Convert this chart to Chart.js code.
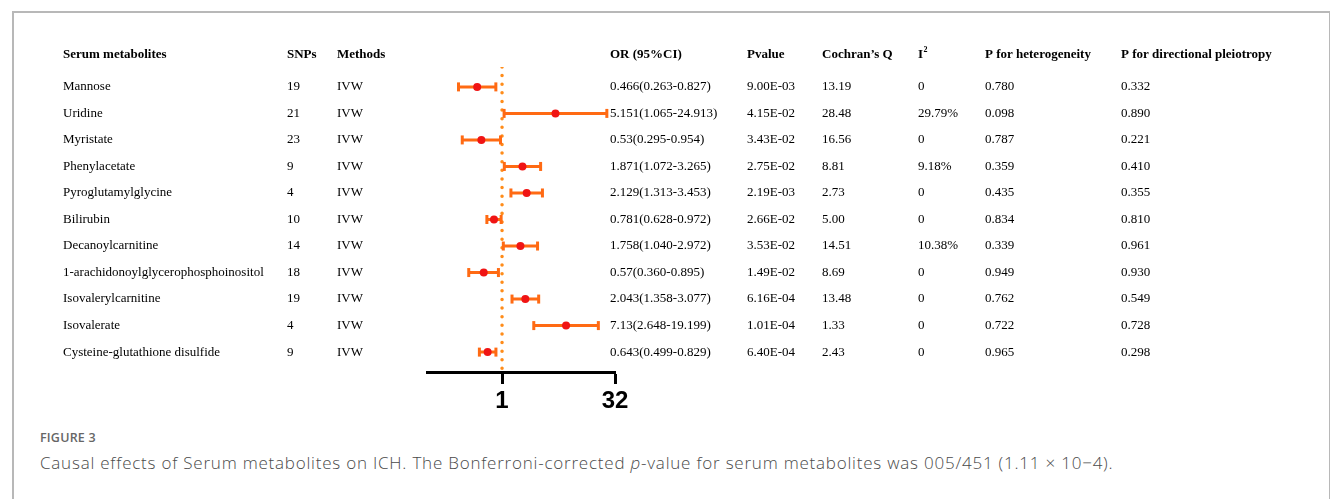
<!DOCTYPE html>
<html>
<head>
<meta charset="utf-8">
<script src="https://cdn.jsdelivr.net/npm/chart.js@4.4.1/dist/chart.umd.min.js"></script>
<style>
  body { margin: 0; background: #fff; width: 1330px; height: 499px; overflow: hidden; position: relative; }
  #frame { position: absolute; left: 12px; top: 11px; width: 1315px; height: 500px;
           border: 2px solid #b8b8b8; border-bottom: none; }
  #plot { position: absolute; left: 0; top: 0; }
  #figno { position: absolute; left: 40px; top: 429px; font-family: "Open Sans", sans-serif;
           font-size: 12.5px; font-weight: 600; color: #666; letter-spacing: 0.2px; }
  #caption { position: absolute; left: 40px; top: 451px; font-family: "Open Sans", sans-serif;
             font-size: 17px; font-weight: 300; letter-spacing: 0.78px; color: #4a4a4a; white-space: nowrap; }
</style>
</head>
<body>
<div id="frame"></div>
<canvas id="plot" width="1330" height="420"></canvas>
<div id="figno">FIGURE 3</div>
<div id="caption">Causal effects of Serum metabolites on ICH. The Bonferroni-corrected <i>p</i>-value for serum metabolites was 005/451 (1.11 × 10−4).</div>
<script>
// table rows, top to bottom
const metabolites = ["Mannose", "Uridine", "Myristate", "Phenylacetate", "Pyroglutamylglycine", "Bilirubin",
  "Decanoylcarnitine", "1-arachidonoylglycerophosphoinositol", "Isovalerylcarnitine", "Isovalerate",
  "Cysteine-glutathione disulfide"];
const snps = [19, 21, 23, 9, 4, 10, 14, 18, 19, 4, 9];
const methods = ["IVW", "IVW", "IVW", "IVW", "IVW", "IVW", "IVW", "IVW", "IVW", "IVW", "IVW"];
const orValue = [0.466, 5.151, 0.53, 1.871, 2.129, 0.781, 1.758, 0.57, 2.043, 7.13, 0.643];
const ciLow = [0.263, 1.065, 0.295, 1.072, 1.313, 0.628, 1.040, 0.360, 1.358, 2.648, 0.499];
const ciHigh = [0.827, 24.913, 0.954, 3.265, 3.453, 0.972, 2.972, 0.895, 3.077, 19.199, 0.829];
const orText = ["0.466(0.263-0.827)", "5.151(1.065-24.913)", "0.53(0.295-0.954)", "1.871(1.072-3.265)",
  "2.129(1.313-3.453)", "0.781(0.628-0.972)", "1.758(1.040-2.972)", "0.57(0.360-0.895)",
  "2.043(1.358-3.077)", "7.13(2.648-19.199)", "0.643(0.499-0.829)"];
const pvalue = ["9.00E-03", "4.15E-02", "3.43E-02", "2.75E-02", "2.19E-03", "2.66E-02", "3.53E-02",
  "1.49E-02", "6.16E-04", "1.01E-04", "6.40E-04"];
const cochranQ = ["13.19", "28.48", "16.56", "8.81", "2.73", "5.00", "14.51", "8.69", "13.48", "1.33", "2.43"];
const i2 = ["0", "29.79%", "0", "9.18%", "0", "0", "10.38%", "0", "0", "0", "0"];
const pHet = ["0.780", "0.098", "0.787", "0.359", "0.435", "0.834", "0.339", "0.949", "0.762", "0.722", "0.965"];
const pDir = ["0.332", "0.890", "0.221", "0.410", "0.355", "0.810", "0.961", "0.930", "0.549", "0.728", "0.298"];
const xTicks = [1, 32];

// error bar segments, a null x breaks the line between rows
let barData = [];
let capData = [];
let pointData = [];
for (let i = 0; i < metabolites.length; i++) {
    barData.push({x: ciLow[i], y: i}, {x: ciHigh[i], y: i}, {x: null, y: i});
    capData.push({x: ciLow[i], y: i}, {x: ciHigh[i], y: i});
    pointData.push({x: orValue[i], y: i});
}

// column x positions of the text table
const cols = [
    {x: 63, head: "Serum metabolites", vals: metabolites},
    {x: 287, head: "SNPs", vals: snps},
    {x: 337, head: "Methods", vals: methods},
    {x: 610, head: "OR (95%CI)", vals: orText},
    {x: 747, head: "Pvalue", vals: pvalue},
    {x: 822, head: "Cochran\u2019s Q", vals: cochranQ},
    {x: 918, head: "I", vals: i2},
    {x: 985, head: "P for heterogeneity", vals: pHet},
    {x: 1121, head: "P for directional pleiotropy", vals: pDir}
];

const tablePlugin = {
    id: "table",
    afterDraw(chart) {
        const ctx = chart.ctx;
        const y = chart.scales.y;
        ctx.save();
        ctx.fillStyle = "#000";
        ctx.textBaseline = "middle";
        ctx.textAlign = "left";
        const headY = y.getPixelForValue(-1.2);
        cols.forEach(c => {
            ctx.font = "bold 13px 'Liberation Serif'";
            ctx.fillText(c.head, c.x, headY);
            if (c.head === "I") {
                ctx.font = "bold 8px 'Liberation Serif'";
                ctx.fillText("2", c.x + 5.5, headY - 5);
            }
            ctx.font = "13px 'Liberation Serif'";
            c.vals.forEach((v, i) => ctx.fillText(String(v), c.x, y.getPixelForValue(i)));
        });
        ctx.restore();
    }
};

let p_ctx = document.getElementById("plot").getContext("2d");

// lower "order" is drawn on top
let chart = new Chart(p_ctx, {
    type: "line",
    data: {
        datasets: [
            {
                // reference line at OR = 1
                data: [{x: 1, y: -0.75}, {x: 1, y: 10.75}],
                borderColor: "#ff8c1a",
                borderWidth: 3.5,
                borderDash: [0.01, 8.6],
                borderCapStyle: "round",
                pointRadius: 0,
                order: 3
            },
            {
                data: barData,
                borderColor: "#ff6a13",
                borderWidth: 3,
                spanGaps: false,
                pointRadius: 0,
                order: 2
            },
            {
                data: capData,
                showLine: false,
                pointStyle: "line",
                rotation: 90,
                pointRadius: 4.5,
                pointBorderWidth: 3,
                pointBorderColor: "#ff6a13",
                order: 1
            },
            {
                data: pointData,
                showLine: false,
                pointStyle: "circle",
                pointRadius: 4,
                pointBorderWidth: 0,
                pointBackgroundColor: "#f01414",
                order: 0
            }
        ]
    },
    options: {
        responsive: false,
        animation: false,
        layout: {padding: {left: 427, right: 715, top: 67, bottom: 0}},
        plugins: {legend: {display: false}, tooltip: {enabled: false}},
        scales: {
            x: {
                type: "logarithmic",
                min: 0.1,
                max: 32,
                afterBuildTicks: s => { s.ticks = xTicks.map(v => ({value: v})); },
                afterFit: s => { s.height = 48; },
                ticks: {
                    callback: v => String(v),
                    color: "#000",
                    padding: 3,
                    font: {family: "'Liberation Sans'", size: 24, weight: "bold"}
                },
                grid: {drawOnChartArea: false, tickLength: 12, tickWidth: 3, tickColor: "#000"},
                border: {display: true, width: 3, color: "#000"}
            },
            y: {
                type: "linear",
                display: false,
                reverse: true,
                min: -0.75,
                max: 10.75
            }
        }
    },
    plugins: [tablePlugin]
});
</script>
</body>
</html>
